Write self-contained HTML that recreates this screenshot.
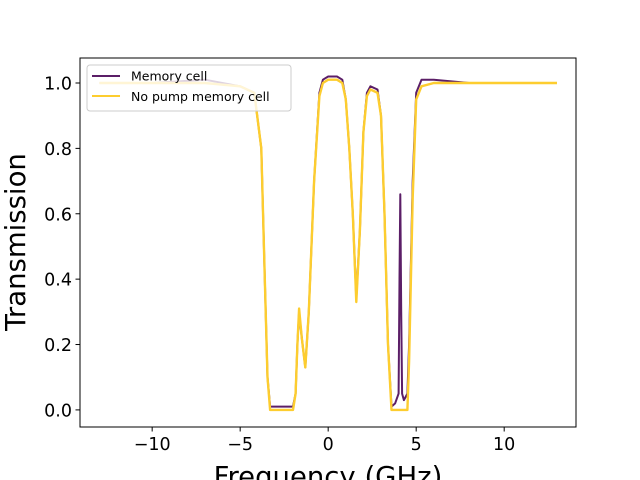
<!DOCTYPE html>
<html><head><meta charset="utf-8"><style>
html,body{margin:0;padding:0;background:#fff;}
svg{display:block;font-family:"DejaVu Sans","Liberation Sans",sans-serif;}
</style></head><body>
<svg id="chart" width="640" height="480" viewBox="0 0 640 480">
<rect x="0" y="0" width="640" height="480" fill="#fff"/>
<g id="plot"></g>
<g id="axes"></g>
</svg>
<script>
const xTicks=[-10,-5,0,5,10];
const xTickLabels=["\u221210","\u22125","0","5","10"];
const yTicks=[0,0.2,0.4,0.6,0.8,1.0];
const yTickLabels=["0.0","0.2","0.4","0.6","0.8","1.0"];
const memX=[-13,-10,-7,-5,-4.2,-3.8,-3.6,-3.45,-3.3,-3.0,-2.5,-2.0,-1.85,-1.75,-1.65,-1.5,-1.3,-1.1,-0.8,-0.5,-0.3,0,0.5,0.8,1.0,1.2,1.4,1.6,1.8,2.0,2.2,2.4,2.8,3.0,3.2,3.4,3.6,3.8,4.0,4.05,4.1,4.15,4.2,4.3,4.5,4.6,4.8,5.0,5.3,6,8,10,12,13];
const memY=[1.0,1.0,1.01,0.99,0.97,0.8,0.4,0.1,0.01,0.01,0.01,0.01,0.05,0.2,0.3,0.22,0.13,0.3,0.7,0.97,1.01,1.02,1.02,1.01,0.95,0.8,0.6,0.34,0.55,0.85,0.97,0.99,0.98,0.9,0.6,0.2,0.01,0.02,0.05,0.4,0.66,0.3,0.05,0.03,0.05,0.2,0.7,0.97,1.01,1.01,1.0,1.0,1.0,1.0];
const npX=[-13,-10,-7,-5,-4.2,-3.8,-3.6,-3.45,-3.3,-3.0,-2.5,-2.0,-1.85,-1.75,-1.65,-1.5,-1.3,-1.1,-0.8,-0.5,-0.3,0,0.5,0.8,1.0,1.2,1.4,1.6,1.8,2.0,2.2,2.4,2.8,3.0,3.2,3.4,3.6,3.8,4.2,4.5,4.6,4.8,5.0,5.3,6,8,10,12,13];
const npY=[1.0,1.0,1.0,0.99,0.97,0.8,0.4,0.1,0.0,0.0,0.0,0.0,0.05,0.2,0.31,0.22,0.13,0.3,0.7,0.96,1.0,1.01,1.01,1.0,0.95,0.8,0.6,0.33,0.55,0.85,0.96,0.98,0.97,0.9,0.6,0.2,0.0,0.0,0.0,0.0,0.15,0.65,0.95,0.99,1.0,1.0,1.0,1.0,1.0];

const L=80,R=576,T=58,B=427;
const xmin=-14.1,xmax=14.08,ymin=-0.0523,ymax=1.0765;
const sx=v=>L+(v-xmin)/(xmax-xmin)*(R-L);
const sy=v=>B-(v-ymin)/(ymax-ymin)*(B-T);
const NS="http://www.w3.org/2000/svg";
const plot=document.getElementById('plot'),axes=document.getElementById('axes');
function mk(t,a,p){const e=document.createElementNS(NS,t);for(const k in a)e.setAttribute(k,a[k]);p.appendChild(e);return e;}
function path(xs,ys){return xs.map((x,i)=>(i?'L':'M')+sx(x).toFixed(1)+','+sy(ys[i]).toFixed(1)).join(' ');}

const l1=mk('path',{d:path(memX,memY),fill:'none',stroke:'#5b1e67','stroke-width':2,'stroke-linejoin':'round'},plot);


const l2=mk('path',{d:path(npX,npY),fill:'none',stroke:'#fdcd2f','stroke-width':2.4,'stroke-linejoin':'round'},plot);



mk('rect',{x:L,y:T,width:R-L,height:B-T,fill:'none',stroke:'#000','stroke-width':1},axes);
xTicks.forEach((v,i)=>{
  const x=sx(v);
  mk('line',{x1:x,x2:x,y1:B,y2:B+4.5,stroke:'#000'},axes);
  const t=mk('text',{x:x,y:B+23,'text-anchor':'middle','font-size':17.5},axes);
  t.textContent=xTickLabels[i];
  
  
});
yTicks.forEach((v,i)=>{
  const y=sy(v);
  mk('line',{x1:L-4.5,x2:L,y1:y,y2:y,stroke:'#000'},axes);
  const t=mk('text',{x:L-8,y:y+6.5,'text-anchor':'end','font-size':17.5},axes);
  t.textContent=yTickLabels[i];
  
  
});
const xt=mk('text',{x:(L+R)/2,y:486,'text-anchor':'middle','font-size':27.5},axes);
xt.textContent='Frequency (GHz)';


const yt=mk('text',{x:0,y:0,'text-anchor':'middle','font-size':27.5,transform:'translate(25,242) rotate(-90)'},axes);
yt.textContent='Transmission';



const lg=mk('g',{},axes);


mk('rect',{x:87,y:65,width:204,height:46,rx:3,fill:'#fff','fill-opacity':0.8,stroke:'#ccc'},lg);
mk('line',{x1:92,x2:120,y1:76,y2:76,stroke:'#5b1e67','stroke-width':2},lg);
mk('line',{x1:92,x2:120,y1:96,y2:96,stroke:'#fdcd2f','stroke-width':2},lg);
const e1=mk('text',{x:131,y:80.5,'font-size':12.5},lg);e1.textContent='Memory cell';


const e2=mk('text',{x:131,y:101,'font-size':12.5},lg);e2.textContent='No pump memory cell';


</script>
</body></html>
